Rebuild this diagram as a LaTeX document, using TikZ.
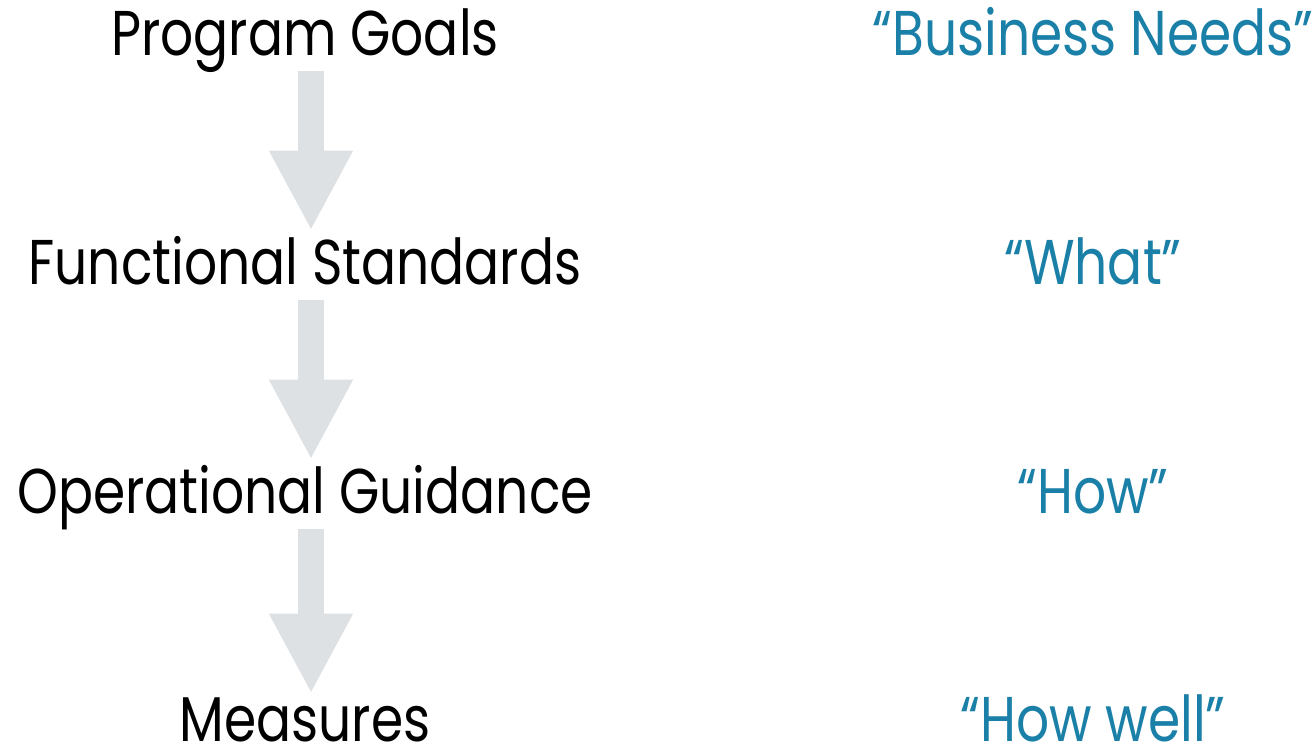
\documentclass[tikz,border=0pt]{standalone}
\usepackage{fontspec}
\setmainfont[FakeStretch=0.82]{Poppins}
\usepackage{xcolor}
\usepackage{tikz}
\usetikzlibrary{arrows.meta,positioning}

\definecolor{quoteblue}{HTML}{1A80A8}
\definecolor{arrowgray}{HTML}{DEE1E4}

\begin{document}
\begin{tikzpicture}[
    font=\fontsize{36}{40}\selectfont,
    level/.style={inner sep=0pt, text height=0.82cm, text depth=0.06cm, anchor=base, text=black},
    quote/.style={level, text=quoteblue},
    flow/.style={line width=0.52cm, arrowgray, -{Triangle[width=1.56cm, length=1.6cm]},
                 shorten <=0.25cm, shorten >=0.24cm},
  ]
    \useasboundingbox (0,0) rectangle (26.24,-14.94);

    \node[level] (goals) at (6.1,-1.10)  {Program Goals};
    \node[level] (std)   at (6.1,-5.68)  {Functional Standards};
    \node[level] (guide) at (6.1,-10.26) {Operational Guidance};
    \node[level] (meas)  at (6.1,-14.82) {Measures};

    \node[quote] (need) at (21.86,-1.10)  {``Business Needs''};
    \node[quote] (what) at (21.86,-5.68)  {``What''};
    \node[quote] (how)  at (21.86,-10.26) {``How''};
    \node[quote] (well) at (21.86,-14.82) {``How well''};

    \draw[flow] ([xshift=0.12cm]goals.south) -- ([xshift=0.12cm]goals.south |- std.north);
    \draw[flow] ([xshift=0.12cm]std.south)   -- ([xshift=0.12cm]std.south |- guide.north);
    \draw[flow, shorten >=0.12cm] ([xshift=0.12cm]guide.south) -- ([xshift=0.12cm]guide.south |- meas.north);
\end{tikzpicture}
\end{document}
